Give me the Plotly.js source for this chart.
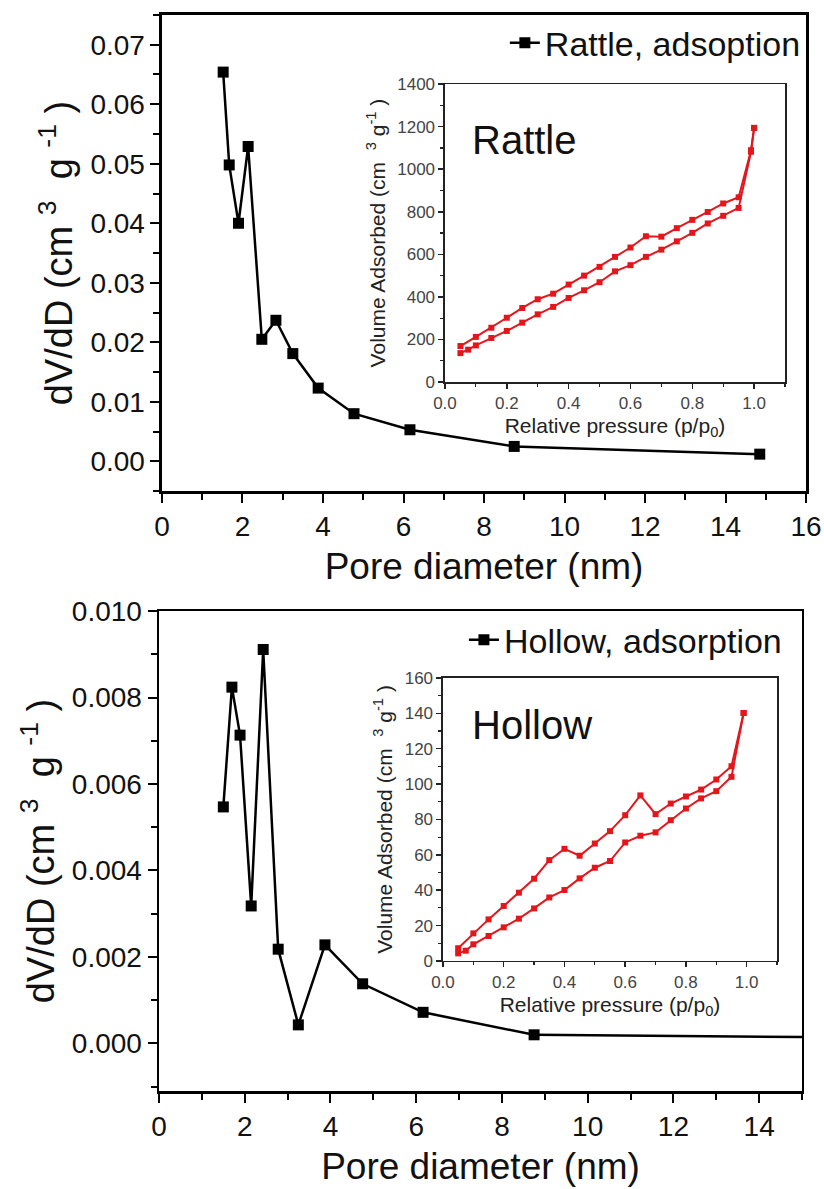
<!DOCTYPE html>
<html>
<head>
<meta charset="utf-8">
<script src="https://cdn.plot.ly/plotly-3.0.1.min.js"></script>
<style>html,body{margin:0;padding:0;background:#fff}#chart{width:824px;height:1189px}</style>
</head>
<body>
<div id="chart"></div>
<script>
// ---- Data ----
// Rattle: pore size distribution
var rattleD  = [1.52, 1.67, 1.90, 2.14, 2.48, 2.83, 3.25, 3.88, 4.77, 6.16, 8.75, 14.85];
var rattleDV = [0.0654, 0.0498, 0.0400, 0.0529, 0.0205, 0.0237, 0.0181, 0.0123, 0.0080, 0.0053, 0.0025, 0.0012];
// Rattle: N2 isotherm (inset)
var rattleAdsP = [0.05, 0.075, 0.10, 0.15, 0.20, 0.25, 0.30, 0.35, 0.40, 0.45, 0.50, 0.55, 0.60, 0.65, 0.70, 0.75, 0.80, 0.85, 0.90, 0.95, 0.99, 1.00];
var rattleAdsV = [136, 152, 172, 207, 240, 279, 318, 353, 395, 431, 469, 520, 549, 588, 622, 661, 701, 745, 781, 818, 1082, 1194];
var rattleDesP = [1.00, 0.99, 0.95, 0.90, 0.85, 0.80, 0.75, 0.70, 0.65, 0.60, 0.55, 0.50, 0.45, 0.40, 0.35, 0.30, 0.25, 0.20, 0.15, 0.10, 0.05];
var rattleDesV = [1194, 1089, 868, 839, 799, 762, 723, 683, 685, 632, 588, 541, 500, 458, 415, 389, 348, 302, 255, 212, 169];
// Hollow: pore size distribution
var hollowD  = [1.50, 1.70, 1.89, 2.15, 2.43, 2.78, 3.25, 3.87, 4.75, 6.16, 8.75];
var hollowDV = [0.00547, 0.00824, 0.00713, 0.00318, 0.00911, 0.00218, 0.00043, 0.00228, 0.00138, 0.00072, 0.00020];
var hollowTailD  = [8.75, 12.1, 15.0];
var hollowTailDV = [0.00020, 0.00017, 0.00015];
// Hollow: N2 isotherm (inset)
var hollowAdsP = [0.05, 0.075, 0.10, 0.15, 0.20, 0.25, 0.30, 0.35, 0.40, 0.45, 0.50, 0.55, 0.60, 0.65, 0.70, 0.75, 0.80, 0.85, 0.90, 0.95, 0.99];
var hollowAdsV = [4.3, 5.8, 9.4, 14.1, 19.0, 23.9, 29.7, 35.9, 40.1, 46.7, 52.7, 56.5, 67.0, 70.8, 72.7, 79.6, 86.2, 91.9, 96.0, 104.1, 140.2];
var hollowDesP = [0.99, 0.95, 0.90, 0.85, 0.80, 0.75, 0.70, 0.65, 0.60, 0.55, 0.50, 0.45, 0.40, 0.35, 0.30, 0.25, 0.20, 0.15, 0.10, 0.05];
var hollowDesV = [140.2, 110.1, 102.6, 96.9, 93.0, 89.0, 83.0, 93.6, 82.4, 73.4, 66.4, 59.5, 63.4, 57.0, 46.5, 38.6, 31.1, 23.5, 15.6, 7.2];

var rattleName = 'Rattle, adsoption';
var hollowName = 'Hollow, adsorption';
var xTitle = 'Pore diameter (nm)';
var NB = '\u00a0';
var yTitle = 'dV/dD (cm' + NB + '<sup>3</sup>' + NB + NB + 'g' + NB + '<sup>-1</sup>' + NB + ')';
var insetYTitle = 'Volume Adsorbed (cm' + NB + NB + '<sup>3</sup>' + NB + 'g<sup>-1</sup>' + NB + ')';
var insetXTitle = 'Relative pressure (p/p<sub>0</sub>)';

// ---- Styles ----
var FONT = '"Liberation Sans", Arial, sans-serif';
var NARROW = '"Liberation Sans Narrow", "Arial Narrow", "Liberation Sans", sans-serif';
var RED = 'rgb(228,22,28)';
function mainLine(){ return {color:'#000', width:2.5}; }
function mainMarker(){ return {symbol:'square', size:11, color:'#000'}; }
function insetLine(){ return {color:RED, width:2}; }
function insetMarker(){ return {symbol:'square', size:6, color:RED}; }

var traces = [
  {x:rattleD, y:rattleDV, xaxis:'x', yaxis:'y', mode:'lines+markers', name:rattleName, legend:'legend',
   line:mainLine(), marker:mainMarker()},
  {x:rattleAdsP, y:rattleAdsV, xaxis:'x2', yaxis:'y2', mode:'lines+markers', showlegend:false,
   line:insetLine(), marker:insetMarker()},
  {x:rattleDesP, y:rattleDesV, xaxis:'x2', yaxis:'y2', mode:'lines+markers', showlegend:false,
   line:insetLine(), marker:insetMarker()},
  {x:hollowD, y:hollowDV, xaxis:'x3', yaxis:'y3', mode:'lines+markers', name:hollowName, legend:'legend2',
   line:mainLine(), marker:mainMarker()},
  {x:hollowTailD, y:hollowTailDV, xaxis:'x3', yaxis:'y3', mode:'lines', showlegend:false,
   line:mainLine()},
  {x:hollowAdsP, y:hollowAdsV, xaxis:'x4', yaxis:'y4', mode:'lines+markers', showlegend:false,
   line:insetLine(), marker:insetMarker()},
  {x:hollowDesP, y:hollowDesV, xaxis:'x4', yaxis:'y4', mode:'lines+markers', showlegend:false,
   line:insetLine(), marker:insetMarker()}
];

function mainAxis(o){
  var a = {showgrid:false, zeroline:false, showline:true, mirror:true, linecolor:'#000', linewidth:2.5,
    ticks:'outside', ticklen:9, tickwidth:2, tickcolor:'#000',
    tickfont:{family:FONT, size:28, color:'#111'}};
  for (var k in o) a[k] = o[k];
  return a;
}
function insetAxis(o){
  var a = {showgrid:false, zeroline:false, showline:true, mirror:true, linecolor:'#222', linewidth:1.5,
    ticks:'outside', ticklen:5, tickwidth:1.5, tickcolor:'#222',
    tickfont:{family:NARROW, size:17, color:'#444'}};
  for (var k in o) a[k] = o[k];
  return a;
}
function mainMinor(d){ return {dtick:d, ticks:'outside', ticklen:6, tickwidth:2, tickcolor:'#000'}; }
function insetMinor(d){ return {dtick:d, ticks:'outside', ticklen:3, tickwidth:1.2, tickcolor:'#222'}; }

var layout = {
  width:824, height:1189, margin:{l:0, r:0, t:0, b:0},
  paper_bgcolor:'#fff', plot_bgcolor:'rgba(0,0,0,0)',
  font:{family:FONT, color:'#111'},
  showlegend:true,
  xaxis: mainAxis({domain:[0.1966, 0.9782], anchor:'y', range:[0,16], dtick:2, minor:mainMinor(1),
    title:{text:xTitle, font:{family:FONT, size:37, color:'#111'}, standoff:12}}),
  yaxis: mainAxis({domain:[0.587, 0.9874], anchor:'x', range:[-0.005, 0.075], dtick:0.01, tick0:0, tickformat:'.2f',
    minor:mainMinor(0.005),
    title:{text:yTitle, font:{family:FONT, size:38, color:'#111'}, standoff:6}}),
  xaxis2: insetAxis({domain:[0.540, 0.9527], anchor:'y2', range:[0,1.1], dtick:0.2, tick0:0, tickformat:'.1f',
    minor:insetMinor(0.1),
    title:{text:insetXTitle, font:{family:NARROW, size:21, color:'#222'}, standoff:6}}),
  yaxis2: insetAxis({domain:[0.6787, 0.9293], anchor:'x2', range:[0,1400], dtick:200, tick0:0,
    minor:insetMinor(100),
    title:{text:insetYTitle, font:{family:NARROW, size:21, color:'#222'}, standoff:6}}),
  xaxis3: mainAxis({domain:[0.193, 0.9733], anchor:'y3', range:[0,15], dtick:2, minor:mainMinor(1),
    title:{text:xTitle, font:{family:FONT, size:37, color:'#111'}, standoff:12}}),
  yaxis3: mainAxis({domain:[0.0824, 0.4861], anchor:'x3', range:[-0.0011, 0.010], dtick:0.002, tick0:0, tickformat:'.3f',
    minor:mainMinor(0.001),
    title:{text:yTitle, font:{family:FONT, size:38, color:'#111'}, standoff:6}}),
  xaxis4: insetAxis({domain:[0.5376, 0.943], anchor:'y4', range:[0,1.1], dtick:0.2, tick0:0, tickformat:'.1f',
    minor:insetMinor(0.1),
    title:{text:insetXTitle, font:{family:NARROW, size:21, color:'#222'}, standoff:6}}),
  yaxis4: insetAxis({domain:[0.1918, 0.4298], anchor:'x4', range:[0,160], dtick:20, tick0:0,
    minor:insetMinor(10),
    title:{text:insetYTitle, font:{family:NARROW, size:21, color:'#222'}, standoff:6}}),
  legend: {x:0.978, xanchor:'right', y:0.988, yanchor:'top', bgcolor:'rgba(0,0,0,0)', borderwidth:0,
    font:{family:FONT, size:34, color:'#111'}, itemwidth:30},
  legend2: {x:0.955, xanchor:'right', y:0.486, yanchor:'top', bgcolor:'rgba(0,0,0,0)', borderwidth:0,
    font:{family:FONT, size:34, color:'#111'}, itemwidth:30},
  annotations: [
    {text:'Rattle', xref:'paper', yref:'paper', x:0.570, y:0.8822, xanchor:'left', yanchor:'middle', showarrow:false,
     font:{family:FONT, size:40, color:'#111'}},
    {text:'Hollow', xref:'paper', yref:'paper', x:0.570, y:0.3902, xanchor:'left', yanchor:'middle', showarrow:false,
     font:{family:FONT, size:40, color:'#111'}}
  ]
};

Plotly.newPlot('chart', traces, layout, {staticPlot:true, displayModeBar:false});
</script>
</body>
</html>
